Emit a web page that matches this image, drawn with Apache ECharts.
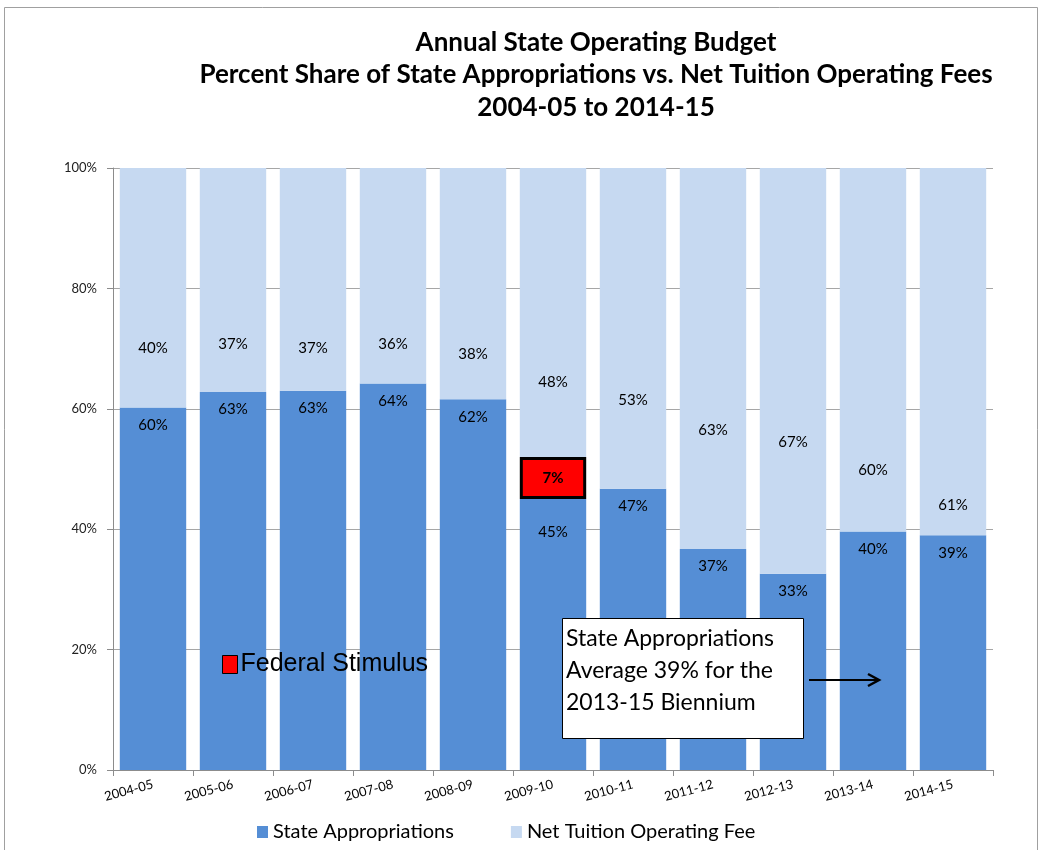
<!DOCTYPE html>
<html>
<head>
<meta charset="utf-8">
<script src="https://cdn.jsdelivr.net/npm/echarts@6/dist/echarts.min.js"></script>
<style>html,body{margin:0;padding:0;background:#fff;}#c{width:1042px;height:850px;}</style>
</head>
<body>
<div id="c"></div>
<script>
const categories = ['2004-05','2005-06','2006-07','2007-08','2008-09','2009-10','2010-11','2011-12','2012-13','2013-14','2014-15'];
const stateAppropriations = [60.2, 62.8, 63.0, 64.2, 61.6, 45.0, 46.7, 36.7, 32.6, 39.6, 39.0];
const federalStimulus = [null, null, null, null, null, 7.0, null, null, null, null, null];
const netTuition = [39.8, 37.2, 37.0, 35.8, 38.4, 48.0, 53.3, 63.3, 67.4, 60.4, 61.0];
// level (% of axis) at which each tuition label sits in the reference
const tuitionLabelAt = [70.1, 70.8, 70.1, 70.8, 69.1, 64.4, 61.5, 56.5, 54.5, 49.8, 44.0];

const GRID_TOP = 168, GRID_BOTTOM = 80;
const PLOT_H = 850 - GRID_TOP - GRID_BOTTOM;
const FONT = 'Lato, "Open Sans", sans-serif';
const pct = p => Math.round(p.value) + '%';

const chart = echarts.init(document.getElementById('c'), null, {renderer: 'canvas'});

const tuitionData = netTuition.map((v, i) => ({
  value: v,
  label: {
    position: ['50%', (100 - tuitionLabelAt[i]) / 100 * PLOT_H],
    align: 'center', verticalAlign: 'middle'
  }
}));
const stateData = stateAppropriations.map((v, i) => i === 5
  ? {value: v, label: {distance: 26}}
  : v);

chart.setOption({
  animation: false,
  backgroundColor: '#ffffff',
  title: {
    text: 'Annual State Operating Budget\nPercent Share of State Appropriations vs. Net Tuition Operating Fees\n2004-05 to 2014-15',
    left: 591, top: 21, textAlign: 'center',
    textStyle: {fontFamily: FONT, fontWeight: 'bold', fontSize: 26, lineHeight: 32.5, color: '#000'}
  },
  grid: {left: 113, right: 49, top: GRID_TOP, bottom: GRID_BOTTOM, containLabel: false},
  legend: [{
    data: ['State Appropriations', 'Net Tuition Operating Fee'],
    left: 252, top: 817, icon: 'rect', itemWidth: 11, itemHeight: 12, itemGap: 57,
    textStyle: {fontFamily: FONT, fontSize: 20, color: '#000'}
  }, {
    data: ['Federal Stimulus'],
    left: 217, top: 647, icon: 'rect', itemWidth: 15, itemHeight: 18, itemGap: 6,
    itemStyle: {borderColor: '#000', borderWidth: 1},
    textStyle: {fontFamily: '"Liberation Sans", Arial, sans-serif', fontSize: 25, color: '#000', padding: [7,0,0,-2]}
  }],
  xAxis: {
    type: 'category', data: categories,
    axisLine: {lineStyle: {color: '#8c8c8c'}},
    axisTick: {show: true, length: 6, lineStyle: {color: '#8c8c8c'}},
    axisLabel: {rotate: 15, fontFamily: FONT, fontSize: 13, color: '#000', margin: 14}
  },
  yAxis: {
    type: 'value', min: 0, max: 100, interval: 20,
    axisLine: {show: true, lineStyle: {color: '#8c8c8c'}},
    axisTick: {show: true, length: 6, lineStyle: {color: '#8c8c8c'}},
    splitLine: {lineStyle: {color: '#a6a6a6', width: 1}},
    axisLabel: {formatter: '{value}%', fontFamily: FONT, fontSize: 13, color: '#222', margin: 16}
  },
  series: [{
    name: 'State Appropriations', type: 'bar', stack: 'total',
    data: stateData, barCategoryGap: '17%',
    itemStyle: {color: '#558ed5'},
    label: {show: true, position: 'insideTop', distance: 10, formatter: pct,
      fontFamily: FONT, fontSize: 15, color: '#000'}
  }, {
    name: 'Federal Stimulus', type: 'bar', stack: 'total',
    data: federalStimulus,
    itemStyle: {color: '#ff0000', borderColor: '#000', borderWidth: 3},
    label: {show: true, position: 'inside', formatter: pct,
      fontFamily: FONT, fontSize: 15, fontWeight: 'bold', color: '#000'}
  }, {
    name: 'Net Tuition Operating Fee', type: 'bar', stack: 'total',
    data: tuitionData,
    itemStyle: {color: '#c6d9f1'},
    label: {show: true, formatter: pct, fontFamily: FONT, fontSize: 15, color: '#000'}
  }],
  graphic: {
    elements: [{
      type: 'rect', silent: true, z: -10,
      shape: {x: 4.5, y: 7.5, width: 1033, height: 900},
      style: {fill: 'none', stroke: '#a0a0a0', lineWidth: 1}
    }, {
      type: 'rect', z: 200, zlevel: 1, shape: {x: 562.5, y: 618.5, width: 241, height: 120},
      style: {fill: '#fff', stroke: '#000', lineWidth: 1}
    }, {
      type: 'text', z: 201, zlevel: 1, left: 566, top: 623,
      style: {text: 'State Appropriations\nAverage 39% for the\n2013-15 Biennium',
        font: '23px ' + FONT, lineHeight: 32, fill: '#000'}
    }, {
      type: 'line', z: 201, zlevel: 1, shape: {x1: 809, y1: 680, x2: 877, y2: 680},
      style: {stroke: '#000', lineWidth: 2}
    }, {
      type: 'polyline', z: 201, zlevel: 1, shape: {points: [[868, 674], [879, 680], [868, 686]]},
      style: {stroke: '#000', lineWidth: 2.5, fill: 'none', lineJoin: 'miter'}
    }]
  }
});
</script>
</body>
</html>
